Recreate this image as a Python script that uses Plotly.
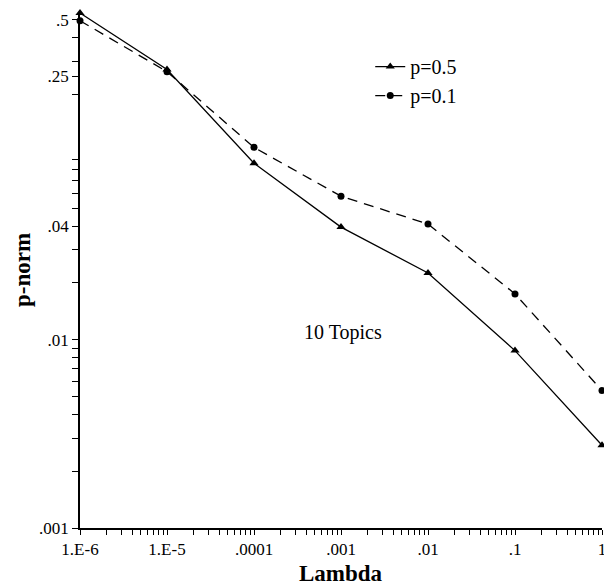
import plotly.graph_objects as go

lambdas = [1e-6, 1e-5, 1e-4, 1e-3, 1e-2, 1e-1, 1]
p05 = [0.543, 0.272, 0.0865, 0.0396, 0.0226, 0.00875, 0.00275]
p01 = [0.494, 0.265, 0.105, 0.0578, 0.0411, 0.0175, 0.00537]

x_major = [1e-6, 1e-5, 1e-4, 1e-3, 1e-2, 1e-1, 1]
x_labels = ["1.E-6", "1.E-5", ".0001", ".001", ".01", ".1", "1"]
y_major = [0.001, 0.01, 0.04, 0.25, 0.5]
y_labels = [".001", ".01", ".04", ".25", ".5"]

x_minor = [float(f"{m}e{e}") for e in range(-6, 0) for m in range(2, 10)]
y_minor = [float(f"{m}e{e}") for e in range(-3, 0) for m in range(2, 10)]


def merge_ticks(major, labels, minor):
    pairs = list(zip(major, labels))
    for v in minor:
        if all(abs(v - m) / m > 1e-6 for m in major):
            pairs.append((v, " "))
    pairs.sort(key=lambda p: p[0])
    return [p[0] for p in pairs], [p[1] for p in pairs]


x_tickvals, x_ticktext = merge_ticks(x_major, x_labels, x_minor)
y_tickvals, y_ticktext = merge_ticks(y_major, y_labels, y_minor)

XR = [-6, 0]
YR = [-3, -0.26]

serif = "Liberation Serif, Times New Roman, serif"

fig = go.Figure()
fig.add_trace(go.Scatter(
    x=lambdas, y=p05, name="p=0.5", mode="lines+markers",
    line=dict(color="black", width=1.3),
    marker=dict(symbol="triangle-up", size=8, color="black"),
    cliponaxis=False,
))
fig.add_trace(go.Scatter(
    x=lambdas, y=p01, name="p=0.1", mode="lines+markers",
    line=dict(color="black", width=1.3, dash="10px,7px"),
    marker=dict(symbol="circle", size=7, color="black"),
    cliponaxis=False,
))

fig.add_annotation(x=0.504, y=0.378, xref="paper", yref="paper", text="10 Topics",
                   showarrow=False, font=dict(family=serif, size=20, color="black"))
fig.add_annotation(x=0.5, y=0, xref="paper", yref="paper", yshift=-45,
                   text="<b>Lambda</b>", showarrow=False, yanchor="middle",
                   font=dict(family=serif, size=23, color="black"))
fig.add_annotation(x=0, y=0.5, xref="paper", yref="paper", xshift=-58,
                   text="<b>p-norm</b>", showarrow=False, textangle=-90,
                   xanchor="center", yanchor="middle",
                   font=dict(family=serif, size=23, color="black"))

fig.update_layout(
    width=604, height=585,
    margin=dict(l=80, r=2, t=12, b=57),
    paper_bgcolor="white", plot_bgcolor="white",
    font=dict(family=serif, size=17, color="black"),
    showlegend=True,
    legend=dict(x=0.556, y=0.932, xanchor="left", yanchor="top",
                bgcolor="rgba(0,0,0,0)",
                font=dict(family=serif, size=20, color="black"),
                tracegroupgap=0),
    xaxis=dict(
        type="log", range=XR, automargin=False,
        tickmode="array", tickvals=x_tickvals, ticktext=x_ticktext,
        tickangle=0, ticklabeloverflow="allow",
        ticks="outside", ticklen=5, tickwidth=1.2, tickcolor="black",
        showline=True, linecolor="black", linewidth=1.5,
        showgrid=False, zeroline=False,
        tickfont=dict(family=serif, size=17),
    ),
    yaxis=dict(
        type="log", range=YR, automargin=False,
        tickmode="array", tickvals=y_tickvals, ticktext=y_ticktext,
        tickangle=0,
        ticks="outside", ticklen=6, tickwidth=1.2, tickcolor="black",
        showline=True, linecolor="black", linewidth=1.5,
        showgrid=False, zeroline=False,
        tickfont=dict(family=serif, size=17),
    ),
)

fig.write_html(
    "out.html",
    config={"displayModeBar": False},
    post_script=(
        "document.documentElement.style.margin='0';"
        "document.documentElement.style.overflow='hidden';"
        "document.body.style.margin='0';"
        "document.body.style.overflow='hidden';"
    ),
)
